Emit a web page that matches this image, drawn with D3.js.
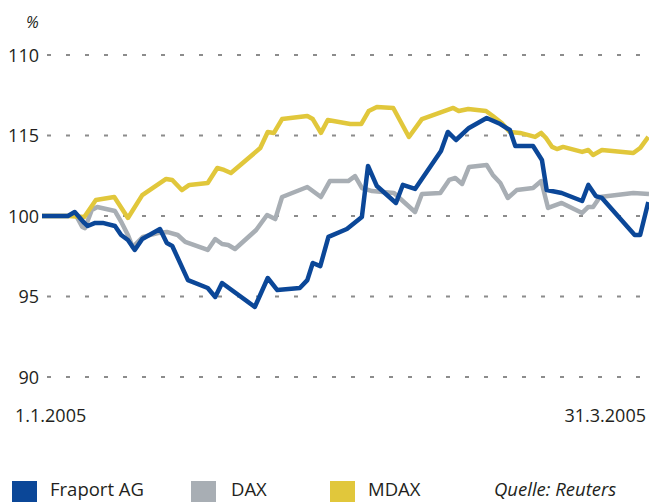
<!DOCTYPE html>
<html><head><meta charset="utf-8">
<script src="https://cdn.jsdelivr.net/npm/d3@7"></script>
<style>
html,body{margin:0;padding:0;background:#fff;}
svg{display:block;}
text{font-family:"Open Sans","Noto Sans",sans-serif;fill:#231f20;}
</style></head>
<body>
<script>
// Tick values and their printed labels (as printed in the original)
const tickValues = [110, 105, 100, 95, 90];
const tickLabels = ["110", "115", "100", "95", "90"];
const startLabel = "1.1.2005";
const endLabel = "31.3.2005";

// Series: day offset since 1.1.2005, indexed value (%)
const fraportDays = [0,3.8,4.8,6.2,6.7,7.8,8.9,10.7,11.6,12.6,13.6,14.7,17.3,18.3,19.1,21.4,24.3,25.4,26.4,31.2,33.1,34.5,37.8,38.9,39.7,40.8,42.0,44.7,46.9,47.8,49.1,51.9,52.9,54.7,58.5,59.5,60.7,62.6,65.2,67.2,68.6,69.4,72.0,73.3,74.0,76.2,79.2,80.1,81.2,82.1,86.9,87.7,88.9];
const fraportValues = [100,100,100.25,99.57,99.38,99.57,99.57,99.38,98.82,98.51,97.89,98.57,99.19,98.32,98.14,96.02,95.53,94.97,95.84,94.35,96.15,95.40,95.53,96.02,97.08,96.89,98.70,99.19,99.94,103.11,101.86,100.81,101.93,101.68,104.04,105.22,104.72,105.47,106.09,105.71,105.34,104.35,104.35,103.48,101.61,101.43,100.93,101.93,101.24,101.12,98.82,98.82,100.87];

const daxDays = [0,3.8,4.8,5.9,6.3,7.3,8.1,10.7,11.7,12.6,13.3,14.8,17.0,18.3,19.9,21.0,24.3,25.4,26.4,27.3,28.3,31.4,33.0,34.2,35.2,38.9,40.9,42.2,44.9,45.9,46.9,48.4,51.6,54.7,55.7,58.4,59.7,60.6,61.6,62.6,65.2,66.1,67.2,68.3,69.6,72.0,73.2,74.2,76.2,79.2,80.1,80.8,81.8,86.7,89.0];
const daxValues = [100,100,100.19,99.32,99.25,100.37,100.56,100.31,99.57,98.82,98.07,98.70,98.94,99.01,98.82,98.39,97.89,98.57,98.26,98.20,97.95,99.13,100.06,99.81,101.18,101.80,101.18,102.17,102.17,102.48,101.74,101.55,101.43,100.25,101.37,101.43,102.24,102.36,101.99,103.04,103.17,102.55,102.05,101.12,101.61,101.74,102.17,100.50,100.81,100.19,100.56,100.56,101.18,101.43,101.37];

const mdaxDays = [0,3.8,6.2,7.9,10.6,12.6,14.7,18.2,19.1,20.5,21.6,24.3,25.7,26.7,27.7,32.0,33.1,34.0,35.2,38.9,39.7,40.9,41.9,45.2,46.8,47.9,49.1,51.5,53.8,55.7,60.3,61.1,62.5,65.1,66.1,67.4,68.6,70.1,72.3,73.2,73.9,74.8,75.5,76.4,79.2,80.1,80.8,82.1,86.7,87.7,88.9];
const mdaxValues = [100,100,99.94,100.99,101.18,99.88,101.30,102.30,102.24,101.61,101.93,102.05,102.98,102.86,102.67,104.22,105.22,105.16,106.02,106.21,106.02,105.16,105.96,105.71,105.71,106.52,106.77,106.71,104.91,106.02,106.71,106.52,106.65,106.52,106.21,105.78,105.22,105.16,104.91,105.16,104.84,104.29,104.16,104.29,103.98,104.10,103.79,104.10,103.91,104.22,104.91];

const seriesNames = ["Fraport AG", "DAX", "MDAX"];
const seriesColors = ["#0b4798", "#a8aeb4", "#e1c73b"];
const sourceLabel = "Quelle: Reuters";

const W = 649, H = 502;
const svg = d3.select("body").append("svg").attr("width", W).attr("height", H);

const x = d3.scaleLinear().domain([0, 89]).range([42, 649]);
const y = d3.scaleLinear().domain([90, 110]).range([377, 55]);

// grid
const grid = svg.append("g");
tickValues.forEach((v, i) => {
  grid.append("line")
    .attr("x1", 47).attr("x2", 645)
    .attr("y1", y(v)).attr("y2", y(v))
    .attr("stroke", "#8c8c8c").attr("stroke-width", 2)
    .attr("stroke-dasharray", "4,15");
  svg.append("text")
    .attr("x", 39).attr("y", y(v) + 6.5)
    .attr("text-anchor", "end")
    .attr("font-size", 18)
    .text(tickLabels[i]);
});

svg.append("text").attr("x", 26).attr("y", 28).attr("font-size", 16)
  .attr("font-style", "italic").text("%");

svg.append("text").attr("x", 15).attr("y", 422).attr("font-size", 18).text(startLabel);
svg.append("text").attr("x", 646).attr("y", 422).attr("font-size", 18)
  .attr("text-anchor", "end").text(endLabel);

const line = d3.line().x(d => x(d[0])).y(d => y(d[1]));
const mk = (days, vals) => days.map((d, i) => [d, vals[i]]);

const series = [
  {data: mk(daxDays, daxValues), color: seriesColors[1]},
  {data: mk(mdaxDays, mdaxValues), color: seriesColors[2]},
  {data: mk(fraportDays, fraportValues), color: seriesColors[0]}
];
series.forEach(s => {
  svg.append("path").datum(s.data)
    .attr("d", line)
    .attr("fill", "none")
    .attr("stroke", s.color)
    .attr("stroke-width", 4.5)
    .attr("stroke-linejoin", "round");
});

// legend
const legX = [12, 191, 330];
const legTX = [50, 231, 368];
seriesNames.forEach((n, i) => {
  svg.append("rect").attr("x", legX[i]).attr("y", 481).attr("width", 25).attr("height", 21)
    .attr("fill", seriesColors[i]);
  svg.append("text").attr("x", legTX[i]).attr("y", 496).attr("font-size", 18.5).text(n);
});
svg.append("text").attr("x", 494).attr("y", 496).attr("font-size", 18.5)
  .attr("font-style", "italic").text(sourceLabel);
</script>
</body></html>
